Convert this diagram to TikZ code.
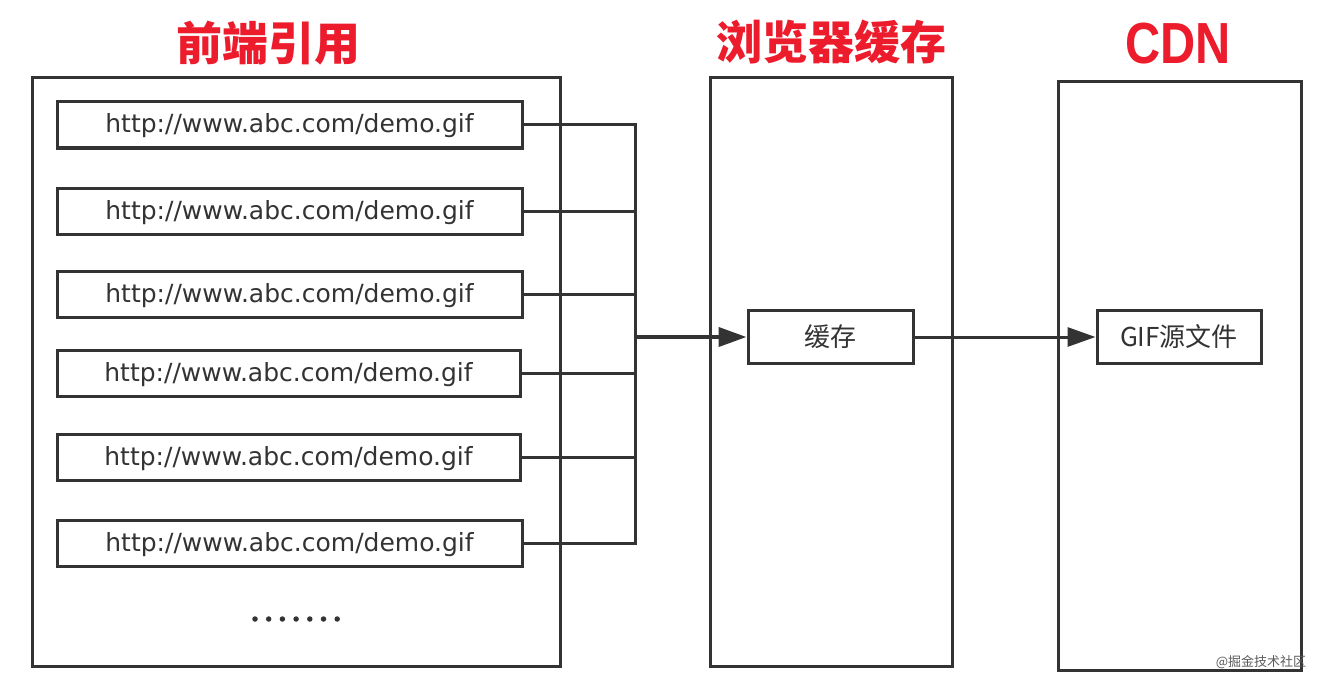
\documentclass[tikz,border=0pt]{standalone}
\usepackage{fontspec}
\usetikzlibrary{arrows.meta}
\newfontfamily\cjk{Noto Sans CJK SC}
\newfontfamily\urlfont{DejaVu Sans}
\newfontfamily\latinsans{Liberation Sans}
\definecolor{ink}{HTML}{333333}
\definecolor{titlered}{HTML}{EC1C2C}
\tikzset{
  container/.style={draw=ink, line width=3pt, inner sep=0pt},
  urlbox/.style={draw=ink, line width=3pt, inner sep=0pt, minimum width=465pt, minimum height=46pt,
    text height=21pt, text depth=5pt,
    text=ink, font=\urlfont\fontsize{25}{26}\selectfont},
  smallbox/.style={draw=ink, line width=3pt, inner sep=0pt, minimum height=53pt,
    text=ink, font=\cjk\fontsize{26}{27}\selectfont},
  title/.style={text=titlered, inner sep=0pt, font=\cjk\bfseries\fontsize{46}{48}\selectfont},
  conn/.style={draw=ink, line width=3pt},
  arr/.style={draw=ink, line width=3pt, -{Triangle[length=28pt,width=19pt]}},
  dot/.style={circle, fill=ink, inner sep=0pt, minimum size=5.5pt}
}
\begin{document}
\begin{tikzpicture}[x=1pt,y=-1pt]
\useasboundingbox (0,0) rectangle (1322,682);
\fill[white] (0,0) rectangle (1322,682);
% titles
\node[title] (t1) at (268,43) {前端引用};
\node[title] (t2) at (831,42) {浏览器缓存};
\node[title, font=\latinsans\bfseries\fontsize{58}{60}\selectfont, xscale=0.84] (t3) at (1178,44) {CDN};
% containers
\node[container, minimum width=528pt, minimum height=588pt] (front) at (296,372) {};
\node[container, minimum width=242pt, minimum height=588pt] (browser) at (831,372) {};
\node[container, minimum width=243pt, minimum height=588pt] (cdn) at (1179.5,376) {};
% url boxes
\node[urlbox] (u1) at (289.5,125) {http://www.abc.com/demo.gif};
\node[urlbox] (u2) at (289.5,211) {http://www.abc.com/demo.gif};
\node[urlbox] (u3) at (289.5,294) {http://www.abc.com/demo.gif};
\node[urlbox, minimum width=463pt] (u4) at (288.5,373) {http://www.abc.com/demo.gif};
\node[urlbox, minimum width=463pt] (u5) at (288.5,457) {http://www.abc.com/demo.gif};
\node[urlbox] (u6) at (289.5,543) {http://www.abc.com/demo.gif};
% dots
\foreach \i in {0,...,6} {
  \node[dot] (d\i) at (255+13.7*\i,619) {};
}
% cache and source
\node[smallbox, minimum width=165pt] (cache) at (830.5,337) {缓存};
\node[smallbox, minimum width=164pt] (gif) at (1179,337) {GIF源文件};
% junction
\coordinate (J) at (635,338);
\foreach \i in {1,...,6} {
  \draw[conn] (u\i.east) -- (u\i.east -| J);
}
\draw[conn, line cap=rect] (u1.east -| J) -- (u6.east -| J);
\draw[arr, line width=4pt] (J |- cache.west) -- (cache.west);
\draw[arr] (cache.east) -- (gif.west);
% watermark
\node[text=ink!80, inner sep=0pt, font=\cjk\fontsize{13}{14}\selectfont] (wm) at (1261,662) {@掘金技术社区};
\end{tikzpicture}
\end{document}
